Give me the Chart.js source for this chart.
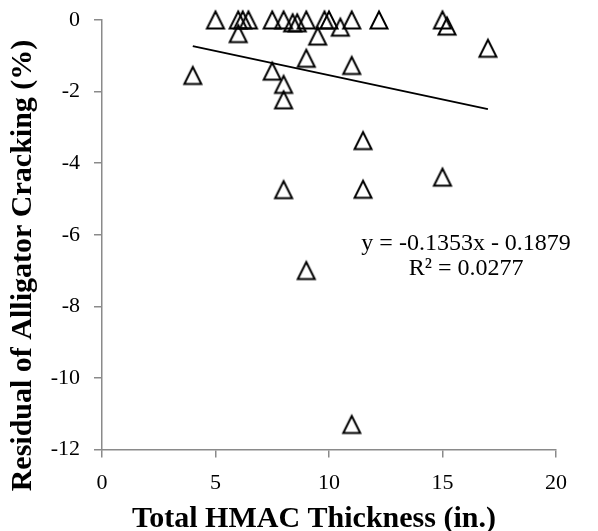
<!DOCTYPE html>
<html><head><meta charset="utf-8">
<script src="https://cdn.jsdelivr.net/npm/chart.js@4/dist/chart.umd.min.js"></script>
<style>html,body{margin:0;padding:0;background:#fff}</style>
</head><body>
<canvas id="c" width="598" height="531"></canvas>
<script>
// ---- data ----
const thicknessX = [4, 5, 6, 6.2, 6.45, 6, 7.5, 7.5, 8, 8, 8, 8, 8.4, 8.6, 9, 9, 9, 9.5, 9.8, 10, 10.5, 11, 11, 11, 11.5, 11.5, 12.2, 15, 15.2, 15, 17];
const residualY  = [-1.55, 0, 0, 0, 0, -0.38, 0, -1.43, 0, -1.8, -2.23, -4.74, -0.08, -0.08, 0, -1.07, -7.0, -0.45, 0, 0, -0.2, 0, -1.27, -11.3, -3.37, -4.73, 0, 0, -0.17, -4.39, -0.79];
const trendX = [4, 17];
const trendY = [-0.73, -2.49];
const xTicks = [0, 5, 10, 15, 20];
const yTicks = [0, -2, -4, -6, -8, -10, -12];
const equationLines = ['y = -0.1353x - 0.1879', 'R\u00B2 = 0.0277'];
const xTitle = 'Total HMAC Thickness (in.)';
const yTitle = 'Residual of Alligator Cracking (%)';

// ---- styling ----
const SERIF = "'Liberation Serif', 'Times New Roman', serif";
const AXIS_GRAY = '#8a8a8a';

function triangleMarker() {
  const c = document.createElement('canvas');
  c.width = 24; c.height = 24;
  const g = c.getContext('2d');
  g.strokeStyle = '#000';
  g.lineWidth = 2;
  g.lineJoin = 'miter';
  g.beginPath();
  g.moveTo(12, 3.5);
  g.lineTo(20.5, 20.5);
  g.lineTo(3.5, 20.5);
  g.closePath();
  g.stroke();
  return c;
}

// trendline equation and axis titles (positioned like the reference)
const annotationPlugin = {
  id: 'annotations',
  afterDatasetsDraw(chart) {
    const {ctx, chartArea, width, height} = chart;
    ctx.save();
    ctx.fillStyle = '#000';
    ctx.textAlign = 'center';
    ctx.textBaseline = 'middle';
    // equation
    ctx.font = "24px " + SERIF;
    const cx = chartArea.left + chartArea.width * 0.802;
    const cy = chartArea.top + chartArea.height * 0.5215;
    ctx.fillText(equationLines[0], cx, cy);
    ctx.fillText(equationLines[1], cx, cy + 25);
    // x axis title
    ctx.font = "bold 30px " + SERIF;
    ctx.fillText(xTitle, width * 0.525, height - 12);
    // y axis title
    ctx.translate(23, height * 0.5);
    ctx.rotate(-Math.PI / 2);
    ctx.fillText(yTitle, 0, 0);
    ctx.restore();
  }
};

const marker = triangleMarker();

new Chart(document.getElementById('c'), {
  type: 'scatter',
  data: {
    datasets: [
      {
        label: 'Residual',
        data: thicknessX.map((x, i) => ({x: x, y: residualY[i]})),
        pointStyle: marker,
        pointRadius: 10,
        pointHoverRadius: 10,
        showLine: false,
        clip: false
      },
      {
        label: 'Trend',
        type: 'line',
        data: trendX.map((x, i) => ({x: x, y: trendY[i]})),
        borderColor: '#000',
        borderWidth: 2,
        pointRadius: 0,
        fill: false,
        clip: false
      }
    ]
  },
  options: {
    responsive: false,
    animation: false,
    devicePixelRatio: 1,
    layout: {padding: {top: 20, right: 42, left: 0, bottom: 0}},
    plugins: {legend: {display: false}, tooltip: {enabled: false}},
    scales: {
      x: {
        type: 'linear',
        min: 0, max: 20,
        afterBuildTicks(s) { s.ticks = xTicks.map(v => ({value: v})); },
        afterFit(s) { s.height = 81.5; s.paddingLeft = 0; s.paddingRight = 0; },
        grid: {drawOnChartArea: false, drawTicks: true, tickLength: 8, color: AXIS_GRAY, lineWidth: 1.5},
        border: {color: AXIS_GRAY, width: 1.5},
        ticks: {color: '#000', font: {family: SERIF, size: 22}, padding: 13, maxRotation: 0},
        title: {display: false, text: xTitle}
      },
      y: {
        type: 'linear',
        min: -12, max: 0,
        afterBuildTicks(s) { s.ticks = yTicks.map(v => ({value: v})); },
        afterFit(s) { s.width = 102; s.paddingTop = 0; s.paddingBottom = 0; },
        grid: {drawOnChartArea: false, drawTicks: true, tickLength: 8, color: AXIS_GRAY, lineWidth: 1.5},
        border: {color: AXIS_GRAY, width: 1.5},
        ticks: {color: '#000', font: {family: SERIF, size: 22}, padding: 14},
        title: {display: false, text: yTitle}
      }
    }
  },
  plugins: [annotationPlugin]
});
</script>
</body></html>
